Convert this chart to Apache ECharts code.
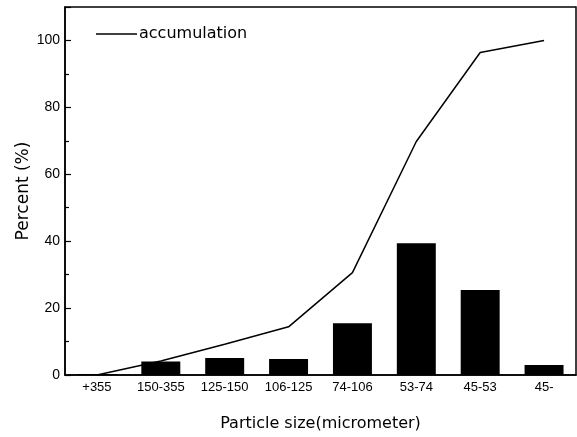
<!DOCTYPE html>
<html>
<head>
<meta charset="utf-8">
<script src="https://cdn.jsdelivr.net/npm/echarts@6/dist/echarts.min.js"></script>
<style>
  html, body { margin: 0; padding: 0; background: #fff; }
  #chart { width: 577px; height: 437px; }
</style>
</head>
<body>
<div id="chart"></div>
<script>
  // particle size fractions
  var sizeClasses = ['+355', '150-355', '125-150', '106-125', '74-106', '53-74', '45-53', '45-']
  var fractionPct = [0.3, 4.0, 5.1, 4.8, 15.5, 39.4, 25.4, 3.0]
  var accumulationPct = [0, 4.2, 9.2, 14.4, 30.6, 69.8, 96.4, 100]

  var narrow = "'Liberation Sans Narrow', 'Liberation Sans', Arial, sans-serif"
  var wide = "'DejaVu Sans', 'Liberation Sans', sans-serif"

  var chart = echarts.init(document.getElementById('chart'), null, { renderer: 'canvas' })
  var option = {
    backgroundColor: '#fff',
    animation: false,
    grid: {
      left: 65,
      right: 1,
      top: 7,
      bottom: 60,
      show: true,
      borderColor: '#000',
      borderWidth: 1.5
    },
    legend: {
      left: 91,
      top: 21,
      data: [{ name: 'accumulation', icon: 'rect', itemStyle: { color: '#000' } }],
      itemWidth: 41,
      itemHeight: 1.5,
      itemGap: 8,
      textStyle: { fontFamily: wide, fontSize: 16, color: '#000', padding: [0, 0, 0, -3] }
    },
    xAxis: {
      type: 'category',
      data: sizeClasses,
      boundaryGap: true,
      name: 'Particle size(micrometer)',
      nameLocation: 'middle',
      nameGap: 41,
      nameMoveOverlap: false,
      nameTextStyle: { fontFamily: wide, fontSize: 16, color: '#000' },
      axisLine: { lineStyle: { color: '#000', width: 1.5 } },
      axisTick: { show: false },
      axisLabel: { fontFamily: narrow, fontSize: 13, color: '#000', margin: 6, interval: 0 },
      splitLine: { show: false }
    },
    yAxis: {
      type: 'value',
      min: 0,
      max: 110,
      interval: 20,
      name: 'Percent (%)',
      nameLocation: 'middle',
      nameGap: 33,
      nameMoveOverlap: false,
      nameTextStyle: { fontFamily: wide, fontSize: 17, color: '#000' },
      axisLine: { show: true, lineStyle: { color: '#000', width: 1.5 } },
      axisTick: { show: true, inside: true, length: 6, lineStyle: { color: '#000', width: 1.2 } },
      minorTick: { show: true, splitNumber: 2, length: 4, lineStyle: { color: '#000', width: 1.2 } },
      axisLabel: {
        fontFamily: narrow,
        fontSize: 14,
        color: '#000',
        margin: 5,
        formatter: function (v) { return v > 100 ? '' : v }
      },
      splitLine: { show: false }
    },
    series: [
      {
        name: 'fraction',
        type: 'bar',
        data: fractionPct,
        barWidth: '61%',
        itemStyle: { color: '#000' }
      },
      {
        name: 'accumulation',
        type: 'line',
        data: accumulationPct,
        symbol: 'none',
        lineStyle: { color: '#000', width: 1.5 },
        itemStyle: { color: '#000' },
        z: 3
      }
    ]
  }
  chart.setOption(option)
</script>
</body>
</html>
